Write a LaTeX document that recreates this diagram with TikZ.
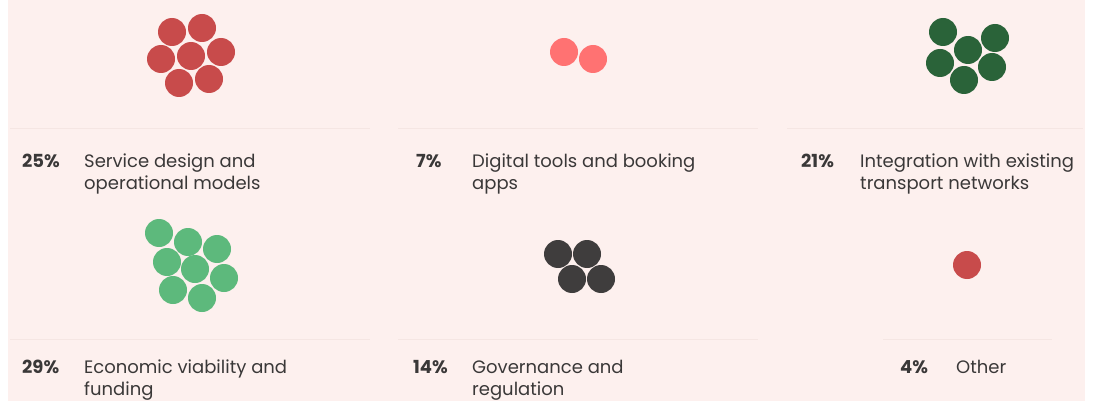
\documentclass[tikz,border=0pt]{standalone}
\usepackage{fontspec}
\setmainfont{Poppins}
\definecolor{nen}{HTML}{FDF0EE}
\definecolor{vach}{HTML}{F5E6E3}
\definecolor{chu}{HTML}{3A3838}
\definecolor{do}{HTML}{C84B4B}
\definecolor{hong}{HTML}{FF7272}
\definecolor{xanhdam}{HTML}{2A6339}
\definecolor{xanhnhat}{HTML}{5DB97C}
\definecolor{xam}{HTML}{3F3D3D}
% hai dong, duong co so o dong dau
\newcommand{\hailine}[2]{\begin{tabular}[t]{@{}l@{}}#1\\#2\end{tabular}}
\begin{document}
\begin{tikzpicture}[x=1pt,y=-1pt,
  pct/.style={anchor=base west,inner sep=0,text=chu,font=\fontsize{18}{22}\selectfont\bfseries},
  lab/.style={anchor=base west,inner sep=0,text=chu,font=\fontsize{18}{22}\selectfont},
  rule/.style={draw=vach,line width=1pt}]
\useasboundingbox (0,0) rectangle (1094,401);
\fill[white] (0,0) rectangle (1094,401);
\fill[nen] (8,0) rectangle (1085,401);
% cac cum cham
\foreach \p in {(172,32),(202,28),(161,59),(191,56),(221,52),(179,83),(209,79)}
  \fill[do] \p circle[radius=14];
\foreach \p in {(564,52),(593,59)}
  \fill[hong] \p circle[radius=14];
\foreach \p in {(943,32),(995,38),(968,50),(940,63),(992,67),(964,80)}
  \fill[xanhdam] \p circle[radius=14];
\foreach \p in {(159,233),(188,242),(217,249),(167,262),(195,269),(224,278),(173,290),(202,298)}
  \fill[xanhnhat] \p circle[radius=14];
\foreach \p in {(558,254),(587,254),(572,279),(601,279)}
  \fill[xam] \p circle[radius=14];
\fill[do] (967,265) circle[radius=14];
% duong ke
\draw[rule] (10,129) -- (370,129);
\draw[rule] (398,129) -- (758,129);
\draw[rule] (787,129) -- (1083,129);
\draw[rule] (10,339) -- (370,339);
\draw[rule] (398,339) -- (758,339);
\draw[rule] (883,339) -- (1052,339);
% nhan
\node[pct] (p1) at (22,167) {25\%};
\node[lab] (l1) at (84,167) {\hailine{Service design and}{operational models}};
\node[pct] (p2) at (416,167) {7\%};
\node[lab] (l2) at (472,167) {\hailine{Digital tools and booking}{apps}};
\node[pct] (p3) at (801,167) {21\%};
\node[lab] (l3) at (860,167) {\hailine{Integration with existing}{transport networks}};
\node[pct] (p4) at (22,373) {29\%};
\node[lab] (l4) at (84,373) {\hailine{Economic viability and}{funding}};
\node[pct] (p5) at (413,373) {14\%};
\node[lab] (l5) at (472,373) {\hailine{Governance and}{regulation}};
\node[pct] (p6) at (900,373) {4\%};
\node[lab] (l6) at (956,373) {Other};
\end{tikzpicture}
\end{document}
